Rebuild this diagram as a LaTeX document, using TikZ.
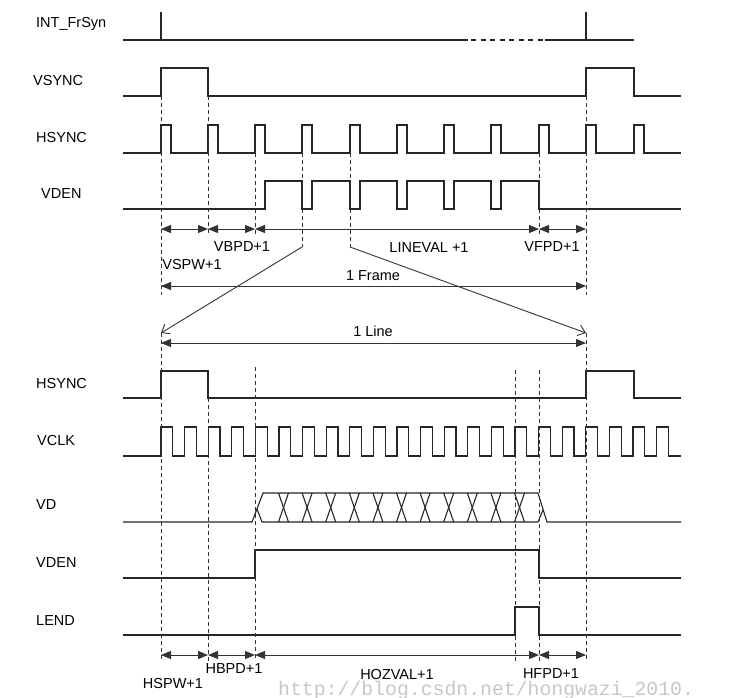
\documentclass[tikz,border=0pt]{standalone}
\usepackage{fontspec}
\setmainfont{Liberation Sans}
\newfontfamily\wmfont{Liberation Mono}
\usetikzlibrary{arrows.meta}
\begin{document}
\begin{tikzpicture}[x=1pt,y=-1pt,
  sig/.style={line width=1.1pt,black!85,line join=miter},
  guide/.style={line width=0.9pt,black!80,dash pattern=on 4pt off 3pt},
  dim/.style={line width=1pt,black!80,{Triangle[length=10pt,width=8pt]}-{Triangle[length=10pt,width=8pt]}},
  zoomline/.style={line width=0.9pt,black!80,-{Straight Barb[length=7pt,width=11pt]}},
  lbl/.style={font=\fontsize{14.5}{17}\selectfont,inner sep=0pt,anchor=west},
  dlbl/.style={font=\fontsize{14.5}{17}\selectfont,inner sep=0pt}]
\fill[white] (0,0) rectangle (736,697);
\useasboundingbox (0,0) rectangle (736,697);

% ---------- signal names ----------
\node[lbl] (nINT)   at (36,24)  {INT\_FrSyn};
\node[lbl] (nVS)    at (33,81)  {VSYNC};
\node[lbl] (nHS)    at (36,138) {HSYNC};
\node[lbl] (nVDEN)  at (41,194) {VDEN};
\node[lbl] (nHS2)   at (36,383) {HSYNC};
\node[lbl] (nVCLK)  at (37,440) {VCLK};
\node[lbl] (nVD)    at (36,505) {VD};
\node[lbl] (nVDEN2) at (36,563) {VDEN};
\node[lbl] (nLEND)  at (36,620) {LEND};

% ---------- top: frame timing ----------
% INT_FrSyn
\draw[sig] (123,40) -- (468,40);
\draw[sig,dash pattern=on 5pt off 4.5pt] (471,40) -- (545,40);
\draw[sig] (545,40) -- (634,40);
\draw[sig] (161,12) -- (161,40);
\draw[sig] (586,12) -- (586,40);
% VSYNC
\draw[sig] (123,96) -| (161,68) -| (208,96) -| (586,68) -| (634,96) -- (681,96);
% HSYNC
\draw[sig] (123,153)
  \foreach \x in {161,208,255,302,350,397,444,491,539,586,634} { -| (\x,125) -| ({\x+10},153) }
  -- (681,153);
% VDEN
\draw[sig] (123,209) -| (265,181)
  \foreach \x in {302,350,397,444,491} { -| (\x,209) -| ({\x+10},181) }
  -| (539,209) -- (681,209);

% guides (top)
\draw[guide] (161,96) -- (161,295);
\draw[guide] (208,96) -- (208,235);
\draw[guide] (255,153) -- (255,235);
\draw[guide] (302,153) -- (302,247);
\draw[guide] (350,153) -- (350,247);
\draw[guide] (539,153) -- (539,235);
\draw[guide] (586,96) -- (586,295);

% dimension arrows (top)
\coordinate (ta) at (161,229); \coordinate (tb) at (208,229);
\coordinate (tc) at (255,229); \coordinate (td) at (539,229);
\coordinate (te) at (586,229);
\draw[dim] (ta) -- (tb);
\draw[dim] (tb) -- (tc);
\draw[dim] (tc) -- (td);
\draw[dim] (td) -- (te);
\node[dlbl] (vbpd) at (242,247) {VBPD+1};
\node[dlbl] (vspw) at (192,265) {VSPW+1};
\node[dlbl] (lineval) at (429,248) {LINEVAL +1};
\node[dlbl] (vfpd) at (552,247) {VFPD+1};

\coordinate (fa) at (161,286); \coordinate (fb) at (586,286);
\draw[dim] (fa) -- (fb);
\node[dlbl] (frame) at (373,276) {1 Frame};

% zoom lines
\coordinate (za) at (302,247); \coordinate (zb) at (350,247);
\coordinate (zc) at (161,333); \coordinate (zd) at (586,333);
\draw[zoomline] (za) -- (zc);
\draw[zoomline] (zb) -- (zd);

% ---------- bottom: line timing ----------
\coordinate (la) at (161,343); \coordinate (lb) at (586,343);
\draw[dim] (la) -- (lb);
\node[dlbl] (line) at (373,331) {1 Line};

% HSYNC
\draw[sig] (123,398) -| (161,371) -| (208,398) -| (586,371) -| (634,398) -- (681,398);
% VCLK
\draw[sig] (123,456)
  \foreach \k in {0,...,21} { -| ({161+23.6*\k},427) -| ({172.8+23.6*\k},456) }
  -- (681,456);
% VD
\draw[sig] (123,522) -- (252,522) -- (263,493) -- (538,493) -- (547,522) -- (681,522);
\draw[sig] (257,509) -- (262,522) -- (538,522) -- (543,510);
\foreach \k in {0,...,10}{
  \draw[sig] ({278.5+23.6*\k},493) -- ({288.5+23.6*\k},522);
  \draw[sig] ({278.5+23.6*\k},522) -- ({288.5+23.6*\k},493);
}
% VDEN
\draw[sig] (123,578) -| (255,550) -| (539,578) -- (681,578);
% LEND
\draw[sig] (123,635) -| (515,607) -| (539,635) -- (681,635);

% guides (bottom)
\draw[guide] (161,333) -- (161,661);
\draw[guide] (586,333) -- (586,661);
\draw[guide] (208,398) -- (208,661);
\draw[guide] (255,367) -- (255,661);
\draw[guide] (515,370) -- (515,661);
\draw[guide] (539,370) -- (539,661);

% dimension arrows (bottom)
\coordinate (ba) at (161,655); \coordinate (bb) at (208,655);
\coordinate (bc) at (255,655); \coordinate (bd) at (539,655);
\coordinate (be) at (586,655);
\draw[dim] (ba) -- (bb);
\draw[dim] (bb) -- (bc);
\draw[dim] (bc) -- (bd);
\draw[dim] (bd) -- (be);
\node[dlbl] (hbpd) at (234,668) {HBPD+1};
\node[dlbl] (hspw) at (173,683) {HSPW+1};
\node[dlbl] (hozval) at (397,674) {HOZVAL+1};
\node[dlbl] (hfpd) at (551,673) {HFPD+1};

% watermark
\node[inner sep=0pt,anchor=west,text=black!22,font=\wmfont\fontsize{19.8}{22}\selectfont] (wm) at (278,690) {http://blog.csdn.net/hongwazi\_2010.};
\end{tikzpicture}
\end{document}
